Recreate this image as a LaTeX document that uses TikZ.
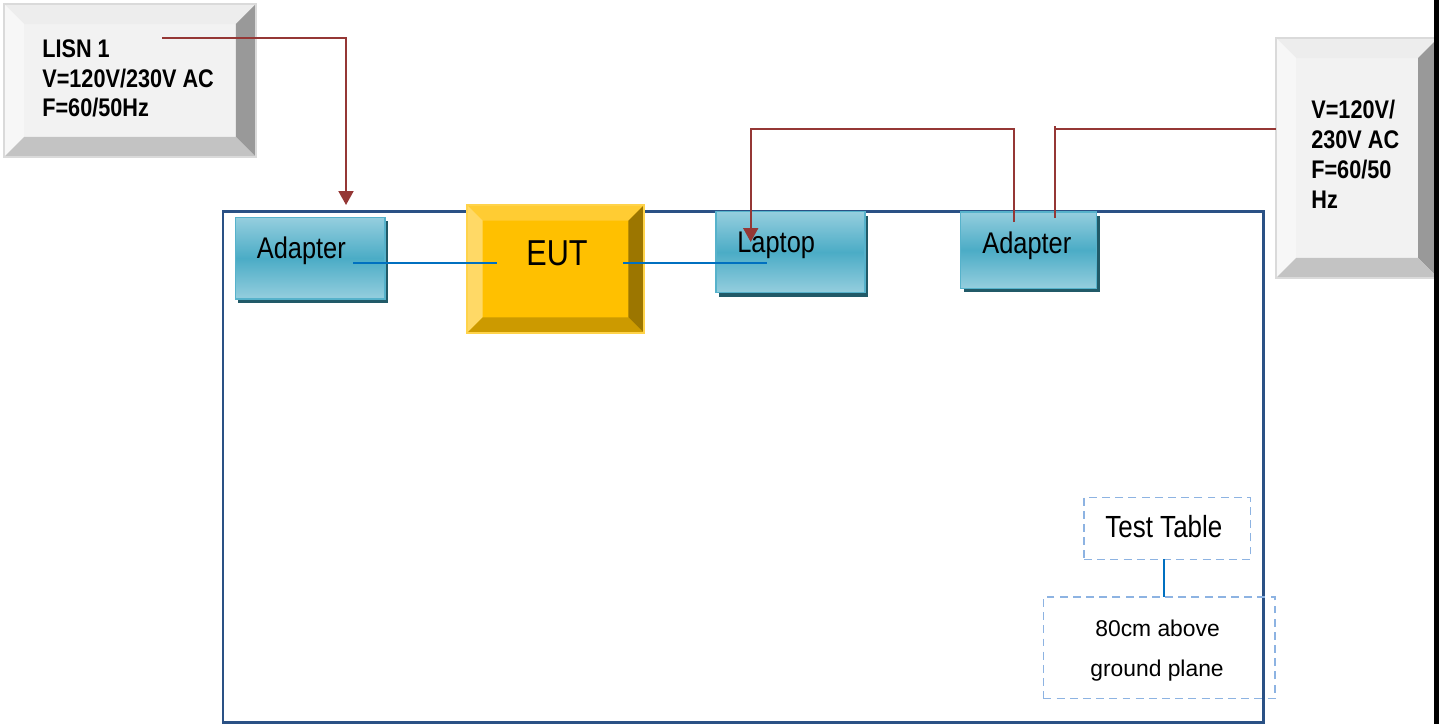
\documentclass[tikz,border=0pt]{standalone}
\usepackage{fontspec}
\setmainfont{Liberation Sans}
\newfontfamily\narrowsf[FakeStretch=0.85]{Liberation Sans}
\usetikzlibrary{arrows.meta,shadows}

\definecolor{tableblue}{HTML}{2A5185}
\definecolor{powerred}{HTML}{953735}
\definecolor{linkblue}{HTML}{0070C0}
\definecolor{dashblue}{HTML}{8DB3E2}
\definecolor{cyanlight}{HTML}{95CEDE}
\definecolor{cyanmid}{HTML}{4BACC6}
\definecolor{cyanedge}{HTML}{56B2CB}
\definecolor{cyanshade}{HTML}{215A68}
% % bevel colours
\definecolor{greyface}{HTML}{F2F2F2}
\definecolor{greytop}{HTML}{EDEDED}
\definecolor{greyleft}{HTML}{F7F7F7}
\definecolor{greyright}{HTML}{999999}
\definecolor{greybot}{HTML}{C3C3C3}
\definecolor{greyedge}{HTML}{DADADA}
\definecolor{goldface}{HTML}{FFC000}
\definecolor{goldtop}{HTML}{FFCC33}
\definecolor{goldleft}{HTML}{FFD966}
\definecolor{goldright}{HTML}{9C7600}
\definecolor{goldbot}{HTML}{CC9A00}
\definecolor{goldedge}{HTML}{FFD34A}

% % bevelled key: node name, bevel width, colour prefix
\newcommand{\bevelbox}[3]{%
  \fill[#3top] (#1.north west) -- (#1.north east) -- ([shift={(-#2,-#2)}]#1.north east) -- ([shift={(#2,-#2)}]#1.north west) -- cycle;
  \fill[#3left] (#1.north west) -- ([shift={(#2,-#2)}]#1.north west) -- ([shift={(#2,#2)}]#1.south west) -- (#1.south west) -- cycle;
  \fill[#3right] (#1.north east) -- (#1.south east) -- ([shift={(-#2,#2)}]#1.south east) -- ([shift={(-#2,-#2)}]#1.north east) -- cycle;
  \fill[#3bot] (#1.south west) -- ([shift={(#2,#2)}]#1.south west) -- ([shift={(-#2,#2)}]#1.south east) -- (#1.south east) -- cycle;
  \draw[#3edge, line width=0.8pt] (#1.north west) rectangle (#1.south east);
}

\begin{document}
\begin{tikzpicture}[x=0.02cm, y=-0.02cm,
    keybox/.style={inner sep=0pt, outer sep=0pt},
    cyanbox/.style={draw=cyanedge, line width=0.85pt, top color=cyanlight, bottom color=cyanlight, middle color=cyanmid,
      inner sep=0pt, outer sep=0pt, drop shadow={shadow xshift=0.06cm, shadow yshift=-0.08cm, fill=cyanshade, opacity=1}},
    dashbox/.style={draw=dashblue, line width=0.85pt, dash pattern=on 4.5pt off 3pt, inner sep=0pt, outer sep=0pt},
    power/.style={draw=powerred, line width=1.1pt},
    tip/.style={-{Triangle[width=0.3cm, length=0.28cm]}},
    link/.style={draw=linkblue, line width=1pt},
    txt/.style={anchor=base west, inner sep=0pt},
    rating/.style={txt, font=\narrowsf\bfseries\fontsize{14.5}{17}\selectfont},
    boxlabel/.style={txt, font=\narrowsf\fontsize{17}{20}\selectfont}]
	\useasboundingbox (0,0) rectangle (1439,724);
	\clip (0,0) rectangle (1439,724);
	% % Test table
	\draw[tableblue, line width=1.7pt] (223,211) rectangle (1263,722);
	% % LISN and second mains supply
	\node[keybox, fill=greyface, minimum width=5.04cm, minimum height=3.06cm] (lisn) at (130,80.5) {};
	\bevelbox{lisn}{0.4cm}{grey}
	\node[keybox, fill=greyface, minimum width=3.24cm, minimum height=4.8cm] (mains) at (1357,158) {};
	\bevelbox{mains}{0.4cm}{grey}
	\foreach \yy/\txt [count=\i] in {57/{LISN 1}, 87.3/{V=120V/230V AC}, 116.7/{F=60/50Hz}}{
		\node[rating] (lisn-\i) at (42,\yy) {\txt};
	}
	\foreach \yy/\txt [count=\i] in {118.3/{V=120V/}, 148.3/{230V AC}, 178.3/{F=60/50}, 208.3/{Hz}}{
		\node[rating] (mains-\i) at (1311,\yy) {\txt};
	}
	% % EUT
	\node[keybox, fill=goldface, minimum width=3.54cm, minimum height=2.56cm] (eut) at (555.5,269) {};
	\bevelbox{eut}{0.31cm}{gold}
	\node[txt, font=\narrowsf\fontsize{20.5}{24}\selectfont] (eut-txt) at (526,265) {EUT};
	% % Adapters and laptop
	\node[cyanbox, minimum width=2.99cm, minimum height=1.63cm] (adp1) at (310.2,258.2) {};
	\node[cyanbox, minimum width=2.98cm, minimum height=1.62cm] (lap) at (790.5,252.2) {};
	\node[cyanbox, minimum width=2.72cm, minimum height=1.53cm] (adp2) at (1028.7,250) {};
	\node[boxlabel] (adp1-txt) at (256.5,258.3) {Adapter};
	\node[boxlabel] (lap-txt) at (737,252.7) {Laptop};
	\node[boxlabel] (adp2-txt) at (982,253.3) {Adapter};
	% % Cable ends
	\coordinate (lisn-out) at (162,38);
	\coordinate (adp1-ac) at (346,205);
	\coordinate (adp2-dc) at (1014,222);
	\coordinate (lap-dc) at (750.7,242);
	\coordinate (adp2-ac) at (1055,218);
	\coordinate (mains-in) at (1276,129.3);
	\coordinate (adp1-dc) at (353,263);
	\coordinate (eut-in) at (497,263);
	\coordinate (eut-out) at (623,263);
	\coordinate (lap-in) at (767,263);
	% % Power cables
	\draw[power, tip] (lisn-out) -| (adp1-ac);
	\draw[power, tip] (adp2-dc) |- (lap-dc |- mains-in) -- (lap-dc);
	\draw[power] (adp2-ac) -- ([yshift=0.06cm]adp2-ac |- mains-in);
	\draw[power] (adp2-ac |- mains-in) -- (mains-in);
	% % Signal cables
	\draw[link] (adp1-dc) -- (eut-in);
	\draw[link] (eut-out) -- (lap-in);
	% % Table note
	\node[dashbox, minimum width=3.33cm, minimum height=1.24cm] (tt) at (1167.3,528.3) {};
	\node[dashbox, minimum width=4.63cm, minimum height=2.03cm] (gp) at (1159.2,647.5) {};
	\node[txt, font=\narrowsf\fontsize{17.4}{20}\selectfont] (tt-txt) at (1105,537.3) {Test Table};
	\node[txt, font=\fontsize{13}{15}\selectfont] (gp-1) at (1095,636.7) {80cm above};
	\node[txt, font=\fontsize{13}{15}\selectfont] (gp-2) at (1090,676.7) {ground plane};
	\draw[link] ([xshift=-0.06cm]tt.south) -- ([xshift=-0.06cm]tt.south |- gp.north);
	% % edge strip
	\fill[black] (1434,0) rectangle (1439,724);
\end{tikzpicture}
\end{document}
